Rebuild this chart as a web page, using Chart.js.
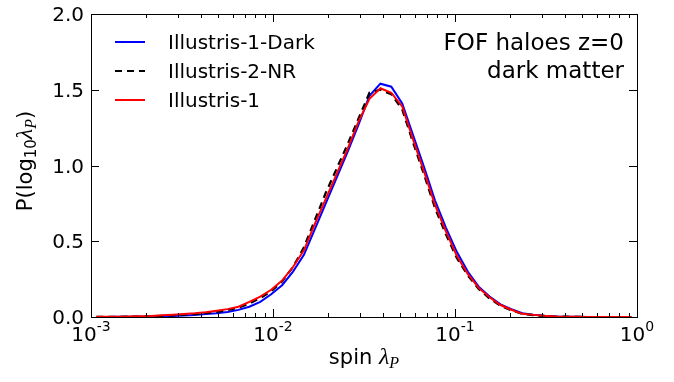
<!DOCTYPE html>
<html>
<head>
<meta charset="utf-8">
<script src="https://cdn.jsdelivr.net/npm/chart.js@4/dist/chart.umd.min.js"></script>
<style>
  html, body { margin: 0; padding: 0; background: #fff; }
  #wrap { width: 674px; height: 382px; }
</style>
</head>
<body>
<div id="wrap"><canvas id="chart" width="674" height="382"></canvas></div>
<script>
// bin centres of spin lambda_P (0.06 dex bins)
const spin = [0.001072, 0.001230, 0.001413, 0.001622, 0.001862, 0.002138, 0.002455, 0.002818, 0.003236, 0.003715,
              0.004266, 0.004898, 0.005623, 0.006457, 0.007413, 0.008511, 0.009772, 0.01122, 0.01288, 0.01479,
              0.01698, 0.01950, 0.02239, 0.02570, 0.02951, 0.03388, 0.03890, 0.04467, 0.05129, 0.05888,
              0.06761, 0.07762, 0.08913, 0.1023, 0.1175, 0.1349, 0.1549, 0.1778, 0.2042, 0.2344,
              0.2692, 0.3090, 0.3548, 0.4074, 0.4677, 0.5370, 0.6166, 0.7079, 0.8128, 0.9333];

const darkVals = [0, 0, 0.001, 0.001, 0.002, 0.003, 0.005, 0.007, 0.010, 0.014,
                  0.019, 0.025, 0.033, 0.047, 0.068, 0.10, 0.15, 0.21, 0.30, 0.41,
                  0.58, 0.75, 0.92, 1.09, 1.27, 1.46, 1.54, 1.52, 1.41, 1.20,
                  0.99, 0.77, 0.59, 0.43, 0.30, 0.20, 0.135, 0.083, 0.051, 0.025,
                  0.015, 0.008, 0.004, 0.002, 0.001, 0, 0, 0, 0, 0];
const nrVals = [0.001, 0.001, 0.001, 0.002, 0.003, 0.005, 0.008, 0.011, 0.015, 0.019,
                0.025, 0.034, 0.045, 0.062, 0.088, 0.125, 0.17, 0.235, 0.33, 0.46,
                0.64, 0.82, 0.98, 1.14, 1.31, 1.48, 1.50, 1.47, 1.37, 1.15,
                0.94, 0.72, 0.545, 0.39, 0.275, 0.185, 0.122, 0.074, 0.044, 0.02,
                0.012, 0.007, 0.003, 0.002, 0.001, 0, 0, 0, 0, 0];
const fullVals = [0.001, 0.001, 0.002, 0.003, 0.005, 0.007, 0.011, 0.015, 0.019, 0.024,
                  0.031, 0.041, 0.052, 0.068, 0.10, 0.135, 0.18, 0.24, 0.33, 0.44,
                  0.615, 0.78, 0.945, 1.11, 1.29, 1.44, 1.51, 1.48, 1.39, 1.17,
                  0.96, 0.74, 0.565, 0.404, 0.284, 0.192, 0.13, 0.079, 0.048, 0.021,
                  0.014, 0.008, 0.004, 0.002, 0.001, 0.0005, 0, 0, 0, 0];

const seriesNames = ['Illustris-1-Dark', 'Illustris-2-NR', 'Illustris-1'];
const xMajor = [0.001, 0.01, 0.1, 1];
const xExp = ['-3', '-2', '-1', '0'];
const yMajor = [0, 0.5, 1.0, 1.5, 2.0];
const yLabels = ['0.0', '0.5', '1.0', '1.5', '2.0'];
const noteLines = ['FOF haloes z=0', 'dark matter'];

const SANS = '"DejaVu Sans", sans-serif';
const MATH = '"Liberation Serif", "DejaVu Serif", serif';

function pts(vals) {
    return spin.map((s, i) => ({x: s, y: vals[i]}));
}

function drawRich(ctx, parts, x, y, align) {
    let w = 0;
    parts.forEach(p => { ctx.font = p.font; w += ctx.measureText(p.t).width; });
    let cx = align == 'center' ? x - w / 2 : (align == 'right' ? x - w : x);
    ctx.textAlign = 'left';
    ctx.textBaseline = 'alphabetic';
    parts.forEach(p => {
        ctx.font = p.font;
        ctx.fillText(p.t, cx, y + (p.dy || 0));
        cx += ctx.measureText(p.t).width;
    });
}

const decor = {
    id: 'decor',
    afterDraw(chart) {
        const ctx = chart.ctx;
        const a = chart.chartArea;
        const xs = chart.scales.x, ys = chart.scales.y;
        ctx.save();
        ctx.strokeStyle = '#000';
        ctx.fillStyle = '#000';
        ctx.lineWidth = 1;

        // frame
        ctx.strokeRect(Math.round(a.left) + 0.5, Math.round(a.top) + 0.5,
                       Math.round(a.right - a.left), Math.round(a.bottom - a.top));

        // x ticks, major and minor, bottom and top
        ctx.beginPath();
        for (let d = 0; d < xMajor.length; d++) {
            const px = Math.round(xs.getPixelForValue(xMajor[d])) + 0.5;
            ctx.moveTo(px, a.bottom); ctx.lineTo(px, a.bottom - 8);
            ctx.moveTo(px, a.top); ctx.lineTo(px, a.top + 8);
            if (d < xMajor.length - 1) {
                for (let m = 2; m <= 9; m++) {
                    const mx = Math.round(xs.getPixelForValue(xMajor[d] * m)) + 0.5;
                    ctx.moveTo(mx, a.bottom); ctx.lineTo(mx, a.bottom - 4);
                    ctx.moveTo(mx, a.top); ctx.lineTo(mx, a.top + 4);
                }
            }
        }
        // y ticks, left and right
        yMajor.forEach(v => {
            const py = Math.round(ys.getPixelForValue(v)) + 0.5;
            ctx.moveTo(a.left, py); ctx.lineTo(a.left + 8, py);
            ctx.moveTo(a.right, py); ctx.lineTo(a.right - 8, py);
        });
        ctx.stroke();

        // tick labels
        xMajor.forEach((v, i) => {
            const px = xs.getPixelForValue(v);
            drawRich(ctx, [
                {t: '10', font: '20px ' + SANS},
                {t: xExp[i], font: '14px ' + SANS, dy: -10}
            ], px, a.bottom + 24, 'center');
        });
        ctx.font = '20px ' + SANS;
        ctx.textAlign = 'right';
        ctx.textBaseline = 'alphabetic';
        yMajor.forEach((v, i) => {
            ctx.fillText(yLabels[i], a.left - 7, ys.getPixelForValue(v) + 7);
        });

        // axis titles
        drawRich(ctx, [
            {t: 'spin ', font: '21px ' + SANS},
            {t: 'λ', font: 'italic 24px ' + MATH},
            {t: 'P', font: 'italic 16px ' + MATH, dy: 4}
        ], (a.left + a.right) / 2, 364, 'center');

        ctx.save();
        ctx.translate(32, 161);
        ctx.rotate(-Math.PI / 2);
        drawRich(ctx, [
            {t: 'P(log', font: '21px ' + SANS},
            {t: '10', font: '15px ' + SANS, dy: 4},
            {t: 'λ', font: 'italic 24px ' + MATH},
            {t: 'P', font: 'italic 16px ' + MATH, dy: 4},
            {t: ')', font: '21px ' + SANS}
        ], 0, 0, 'center');
        ctx.restore();

        // legend
        chart.data.datasets.forEach((ds, i) => {
            const cy = a.top + 28 + i * 29;
            ctx.save();
            ctx.strokeStyle = ds.borderColor;
            ctx.lineWidth = 2;
            ctx.setLineDash(ds.borderDash || []);
            ctx.beginPath();
            ctx.moveTo(115, cy); ctx.lineTo(145, cy);
            ctx.stroke();
            ctx.restore();
            ctx.font = '20px ' + SANS;
            ctx.textAlign = 'left';
            ctx.fillText(ds.label, 168, cy + 7);
        });

        // annotation
        ctx.font = '23px ' + SANS;
        ctx.textAlign = 'right';
        noteLines.forEach((s, i) => ctx.fillText(s, a.right - 13, a.top + 36 + i * 28));
        ctx.restore();
    }
};

new Chart(document.getElementById('chart'), {
    type: 'line',
    data: {
        datasets: [
            {label: seriesNames[0], data: pts(darkVals), borderColor: '#0000ff', borderWidth: 2, order: 3},
            {label: seriesNames[1], data: pts(nrVals), borderColor: '#000000', borderWidth: 2.2, borderDash: [7, 5], order: 2},
            {label: seriesNames[2], data: pts(fullVals), borderColor: '#ff0000', borderWidth: 2, order: 1}
        ]
    },
    options: {
        responsive: false,
        animation: false,
        devicePixelRatio: 1,
        elements: {point: {radius: 0}, line: {tension: 0, fill: false}},
        layout: {padding: {left: 91, top: 14, right: 37, bottom: 65}},
        plugins: {legend: {display: false}, tooltip: {enabled: false}},
        scales: {
            x: {
                type: 'logarithmic', min: 0.001, max: 1,
                ticks: {display: false},
                grid: {display: false, drawTicks: false},
                border: {display: false}
            },
            y: {
                type: 'linear', min: 0, max: 2,
                ticks: {display: false},
                grid: {display: false, drawTicks: false},
                border: {display: false}
            }
        }
    },
    plugins: [decor]
});
</script>
</body>
</html>
